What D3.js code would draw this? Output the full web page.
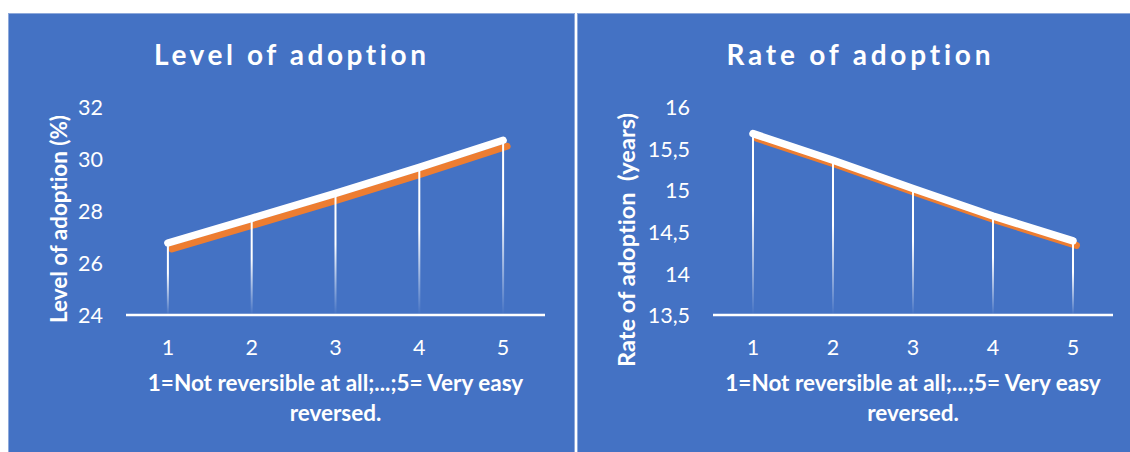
<!DOCTYPE html>
<html>
<head>
<meta charset="utf-8">
<script src="https://cdn.jsdelivr.net/npm/d3@7"></script>
<style>
  html, body { margin: 0; padding: 0; background: #ffffff; }
  svg { display: block; }
  text { font-family: Lato, "Open Sans", sans-serif; fill: #ffffff; font-variant-ligatures: none; font-feature-settings: "liga" 0, "clig" 0; }
</style>
</head>
<body>
<svg id="chart" width="1130" height="452"></svg>
<script>
// Reversibility scale (1 = not reversible at all ... 5 = very easy reversed)
const categories = [1, 2, 3, 4, 5];

// Level of adoption (%)
const levelValues = [26.77, 27.72, 28.68, 29.68, 30.72];
const levelTicks = [24, 26, 28, 30, 32];

// Rate of adoption (years)
const rateValues = [15.68, 15.36, 15.02, 14.69, 14.39];
const rateTicks = [13.5, 14, 14.5, 15, 15.5, 16];

const xAxisTitle = ["1=Not reversible at all;...;5= Very easy", "reversed."];

const BLUE = "#4472C4";
const ORANGE = "#ED7D31";

const svg = d3.select("#chart");

// Gradient used by the drop lines: solid white at the top fading into the panel blue
const defs = svg.append("defs");
const grad = defs.append("linearGradient")
  .attr("id", "dropFade")
  .attr("x1", 0).attr("y1", 0).attr("x2", 0).attr("y2", 1);
grad.append("stop").attr("offset", 0).attr("stop-color", "#ffffff").attr("stop-opacity", 1);
grad.append("stop").attr("offset", 0.42).attr("stop-color", "#ffffff").attr("stop-opacity", 1);
grad.append("stop").attr("offset", 1).attr("stop-color", "#ffffff").attr("stop-opacity", 0);

const panels = [
  {
    title: "Level of adoption",
    yTitle: "Level of adoption (%)",
    values: levelValues,
    ticks: levelTicks,
    domain: [24, 32],
    fmt: d3.format("d"),
    panel: [8, 13, 567, 445],
    xRange: [126, 545],
    yRange: [315, 107],
    tickRight: 103,
    titleX: 290, titleW: 272,
    yTitleX: 67, yTitleY: 219,
    yTitleW: 208,
    shadow: [4, 6]
  },
  {
    title: "Rate of adoption",
    yTitle: "Rate of adoption  (years)",
    values: rateValues,
    ticks: rateTicks,
    domain: [13.5, 16],
    fmt: d => d3.format(".1~f")(d).replace(".", ","),
    panel: [577, 13, 560, 445],
    xRange: [713, 1113],
    yRange: [315, 107],
    tickRight: 690,
    titleX: 858.5, titleW: 264,
    yTitleX: 634.5, yTitleY: 240,
    yTitleW: 254,
    shadow: [3.5, 4.5]
  }
];

panels.forEach(cfg => {
  const g = svg.append("g");

  // panel background
  g.append("rect")
    .attr("x", cfg.panel[0] + 0.5).attr("y", cfg.panel[1] + 0.5)
    .attr("width", cfg.panel[2] - 1).attr("height", cfg.panel[3])
    .attr("fill", BLUE)
    .attr("stroke", "#8EA9DB").attr("stroke-width", 1);

  const x = d3.scaleBand().domain(categories).range(cfg.xRange);
  const y = d3.scaleLinear().domain(cfg.domain).range(cfg.yRange);
  const cx = d => x(d) + x.bandwidth() / 2;

  // title
  g.append("text")
    .attr("x", cfg.titleX).attr("y", 64.5)
    .attr("text-anchor", "middle")
    .attr("font-size", 28).attr("font-weight", 700)
    .attr("textLength", cfg.titleW).attr("lengthAdjust", "spacing")
    .text(cfg.title);

  // y axis (labels only)
  const yAxis = d3.axisLeft(y).tickValues(cfg.ticks).tickFormat(cfg.fmt).tickSize(0).tickPadding(0);
  const ya = g.append("g").attr("transform", `translate(${cfg.tickRight},0)`).call(yAxis);
  ya.select(".domain").remove();
  ya.selectAll("text")
    .attr("font-size", 21.5).attr("font-family", "Lato, sans-serif")
    .attr("fill", "#ffffff").attr("dy", "0.36em");

  // x axis labels
  const xAxis = d3.axisBottom(x).tickSize(0).tickPadding(0);
  const xa = g.append("g").attr("transform", `translate(0,354.5)`).call(xAxis);
  xa.select(".domain").remove();
  xa.selectAll("text")
    .attr("font-size", 21.5).attr("font-family", "Lato, sans-serif")
    .attr("fill", "#ffffff").attr("dy", 0).attr("y", 0);

  // y axis title
  g.append("text")
    .attr("transform", `translate(${cfg.yTitleX},${cfg.yTitleY}) rotate(-90)`)
    .attr("text-anchor", "middle")
    .attr("font-size", 22).attr("font-weight", 700)
    .style("white-space", "pre")
    .attr("textLength", cfg.yTitleW).attr("lengthAdjust", "spacingAndGlyphs")
    .text(cfg.yTitle);

  // x axis title (two lines)
  const xMid = (cfg.xRange[0] + cfg.xRange[1]) / 2;
  g.selectAll("text.xtitle").data(xAxisTitle).join("text")
    .attr("class", "xtitle")
    .attr("x", xMid).attr("y", (d, i) => 390.5 + i * 30)
    .attr("text-anchor", "middle")
    .attr("font-size", 22.5).attr("font-weight", 700)
    .text(d => d);

  const pts = categories.map((c, i) => [cx(c), y(cfg.values[i])]);
  const line = d3.line();

  // orange offset shadow under the series line
  g.append("path")
    .attr("d", line(pts))
    .attr("transform", `translate(${cfg.shadow[0]},${cfg.shadow[1]})`)
    .attr("fill", "none").attr("stroke", ORANGE)
    .attr("stroke-width", 7).attr("stroke-linecap", "round").attr("stroke-linejoin", "round");

  // series line
  g.append("path")
    .attr("d", line(pts))
    .attr("fill", "none").attr("stroke", "#ffffff")
    .attr("stroke-width", 7.5).attr("stroke-linecap", "round").attr("stroke-linejoin", "round");

  // drop lines from each point down to the category axis
  g.selectAll("rect.drop").data(categories).join("rect")
    .attr("class", "drop")
    .attr("x", d => cx(d) - 1)
    .attr("y", (d, i) => y(cfg.values[i]))
    .attr("width", 2)
    .attr("height", (d, i) => y(cfg.domain[0]) - y(cfg.values[i]))
    .attr("fill", "url(#dropFade)");

  // category axis line
  g.append("line")
    .attr("x1", cfg.xRange[0]).attr("x2", cfg.xRange[1])
    .attr("y1", y(cfg.domain[0])).attr("y2", y(cfg.domain[0]))
    .attr("stroke", "#ffffff").attr("stroke-width", 2.5);
});
</script>
</body>
</html>
